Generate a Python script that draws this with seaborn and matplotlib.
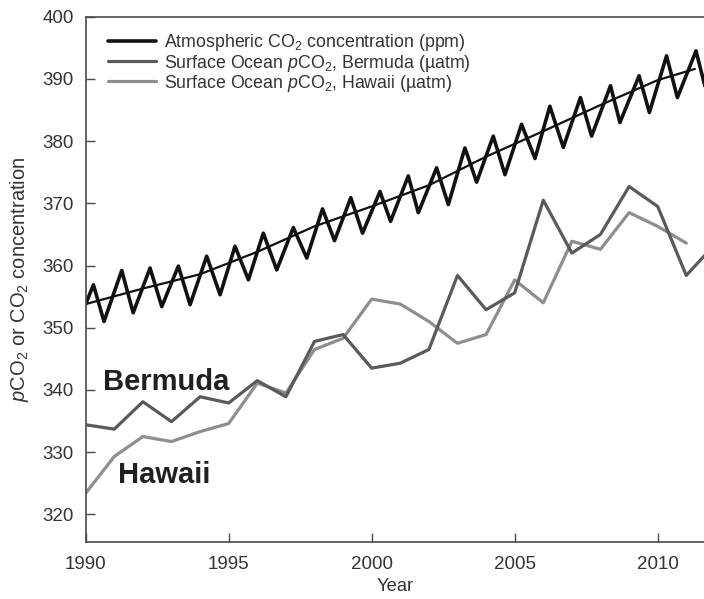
import matplotlib
matplotlib.use("Agg")
import matplotlib.pyplot as plt
import seaborn as sns

# ---- data ----
years = list(range(1990, 2012))
bermuda_years = list(range(1990, 2013))
bermuda = [334.4, 333.7, 338.1, 334.9, 338.9, 337.9, 341.5, 338.9, 347.8, 348.9,
           343.5, 344.3, 346.5, 358.4, 352.9, 355.6, 370.5, 362.0, 365.0, 372.7,
           369.5, 358.4, 363.4]
hawaii = [323.4, 329.3, 332.5, 331.7, 333.3, 334.6, 341.1, 339.5, 346.5, 348.3,
          354.6, 353.8, 351.0, 347.5, 348.9, 357.7, 354.0, 363.9, 362.6, 368.5,
          366.3, 363.6]

co2_time = [1990.00, 1990.27, 1990.64, 1991.26, 1991.66, 1992.25, 1992.66, 1993.24,
            1993.65, 1994.23, 1994.70, 1995.22, 1995.69, 1996.21, 1996.68, 1997.26,
            1997.73, 1998.28, 1998.70, 1999.27, 1999.68, 2000.29, 2000.66, 2001.28,
            2001.63, 2002.27, 2002.68, 2003.26, 2003.67, 2004.25, 2004.66, 2005.24,
            2005.71, 2006.23, 2006.70, 2007.30, 2007.69, 2008.35, 2008.68, 2009.35,
            2009.71, 2010.31, 2010.69, 2011.34, 2011.70]
co2_monthly = [353.8, 356.9, 351.0, 359.2, 352.4, 359.6, 353.4, 359.9,
               353.7, 361.5, 355.3, 363.1, 357.7, 365.2, 359.3, 366.1,
               361.2, 369.1, 364.0, 370.9, 365.2, 371.9, 367.1, 374.4,
               368.5, 375.7, 369.8, 378.9, 373.4, 380.8, 374.6, 382.7,
               377.2, 385.6, 379.0, 387.0, 380.8, 388.9, 383.0, 390.5,
               384.6, 393.7, 387.0, 394.5, 388.0]
trend_time = [1990.0, 1992.0, 1994.0, 1996.0, 1998.0, 2000.0, 2002.0, 2004.0,
              2006.0, 2008.0, 2010.0, 2011.3]
co2_trend = [353.8, 356.3, 358.6, 362.2, 366.3, 369.5, 372.9, 377.5,
             381.6, 385.8, 389.8, 391.6]

x_ticks = [1990, 1995, 2000, 2005, 2010]
y_ticks = [320, 330, 340, 350, 360, 370, 380, 390, 400]

labels = ["Atmospheric CO$_2$ concentration (ppm)",
          "Surface Ocean $p$CO$_2$, Bermuda (\u00b5atm)",
          "Surface Ocean $p$CO$_2$, Hawaii (\u00b5atm)"]

# ---- style ----
sns.set_style("ticks")
plt.rcParams["font.family"] = ["Liberation Sans", "DejaVu Sans"]
plt.rcParams["mathtext.fontset"] = "custom"
plt.rcParams["mathtext.rm"] = "Liberation Sans"
plt.rcParams["mathtext.it"] = "Liberation Sans:italic"
plt.rcParams["mathtext.bf"] = "Liberation Sans:bold"

fig = plt.figure(figsize=(7.04, 5.99), dpi=100)
ax = fig.add_axes([85.7 / 704, (599 - 541.7) / 599, (704 - 85.7) / 704, (541.7 - 16.7) / 599])

c_co2 = "#111111"
c_berm = "#5a5a5a"
c_haw = "#8e8e8e"

sns.lineplot(x=years, y=hawaii, ax=ax, color=c_haw, lw=2.3, label=labels[2])
sns.lineplot(x=bermuda_years, y=bermuda, ax=ax, color=c_berm, lw=2.3, label=labels[1])
sns.lineplot(x=trend_time, y=co2_trend, ax=ax, color=c_co2, lw=1.6)
sns.lineplot(x=co2_time, y=co2_monthly, ax=ax, color=c_co2, lw=2.6, label=labels[0])

ax.set_xlim(1990, 2011.62)
ax.set_ylim(315.6, 400)
ax.set_xticks(x_ticks)
ax.set_yticks(y_ticks)

for s in ["left", "bottom", "top"]:
    ax.spines[s].set_color("#4a4a4a")
    ax.spines[s].set_linewidth(1.2)
ax.spines["right"].set_visible(False)
ax.tick_params(direction="in", length=6.5, width=1.0, color="#4a4a4a",
               labelsize=13.5, labelcolor="#333333")
ax.tick_params(axis="x", pad=10)
ax.tick_params(axis="y", pad=8.5)

ax.set_xlabel("Year", fontsize=13.2, color="#333333", labelpad=4)
ax.set_ylabel("$p$CO$_2$ or CO$_2$ concentration", fontsize=14.5,
              color="#333333", labelpad=8)

handles, labs = ax.get_legend_handles_labels()
order = [labs.index(l) for l in labels]
leg = ax.legend([handles[i] for i in order], [labs[i] for i in order],
                loc="upper left", bbox_to_anchor=(0.0366, 0.970),
                frameon=False, fontsize=12.8, handlelength=2.7,
                handletextpad=0.45, labelspacing=-0.05, borderpad=0,
                borderaxespad=0)
for t in leg.get_texts():
    t.set_color("#333333")

ax.text(1990.62, 340.0, "Bermuda", fontsize=21, fontweight="bold",
        color="#231f20", ha="left", va="baseline")
ax.text(1991.14, 325.0, "Hawaii", fontsize=21, fontweight="bold",
        color="#231f20", ha="left", va="baseline")

fig.savefig("out.png", dpi=100)
